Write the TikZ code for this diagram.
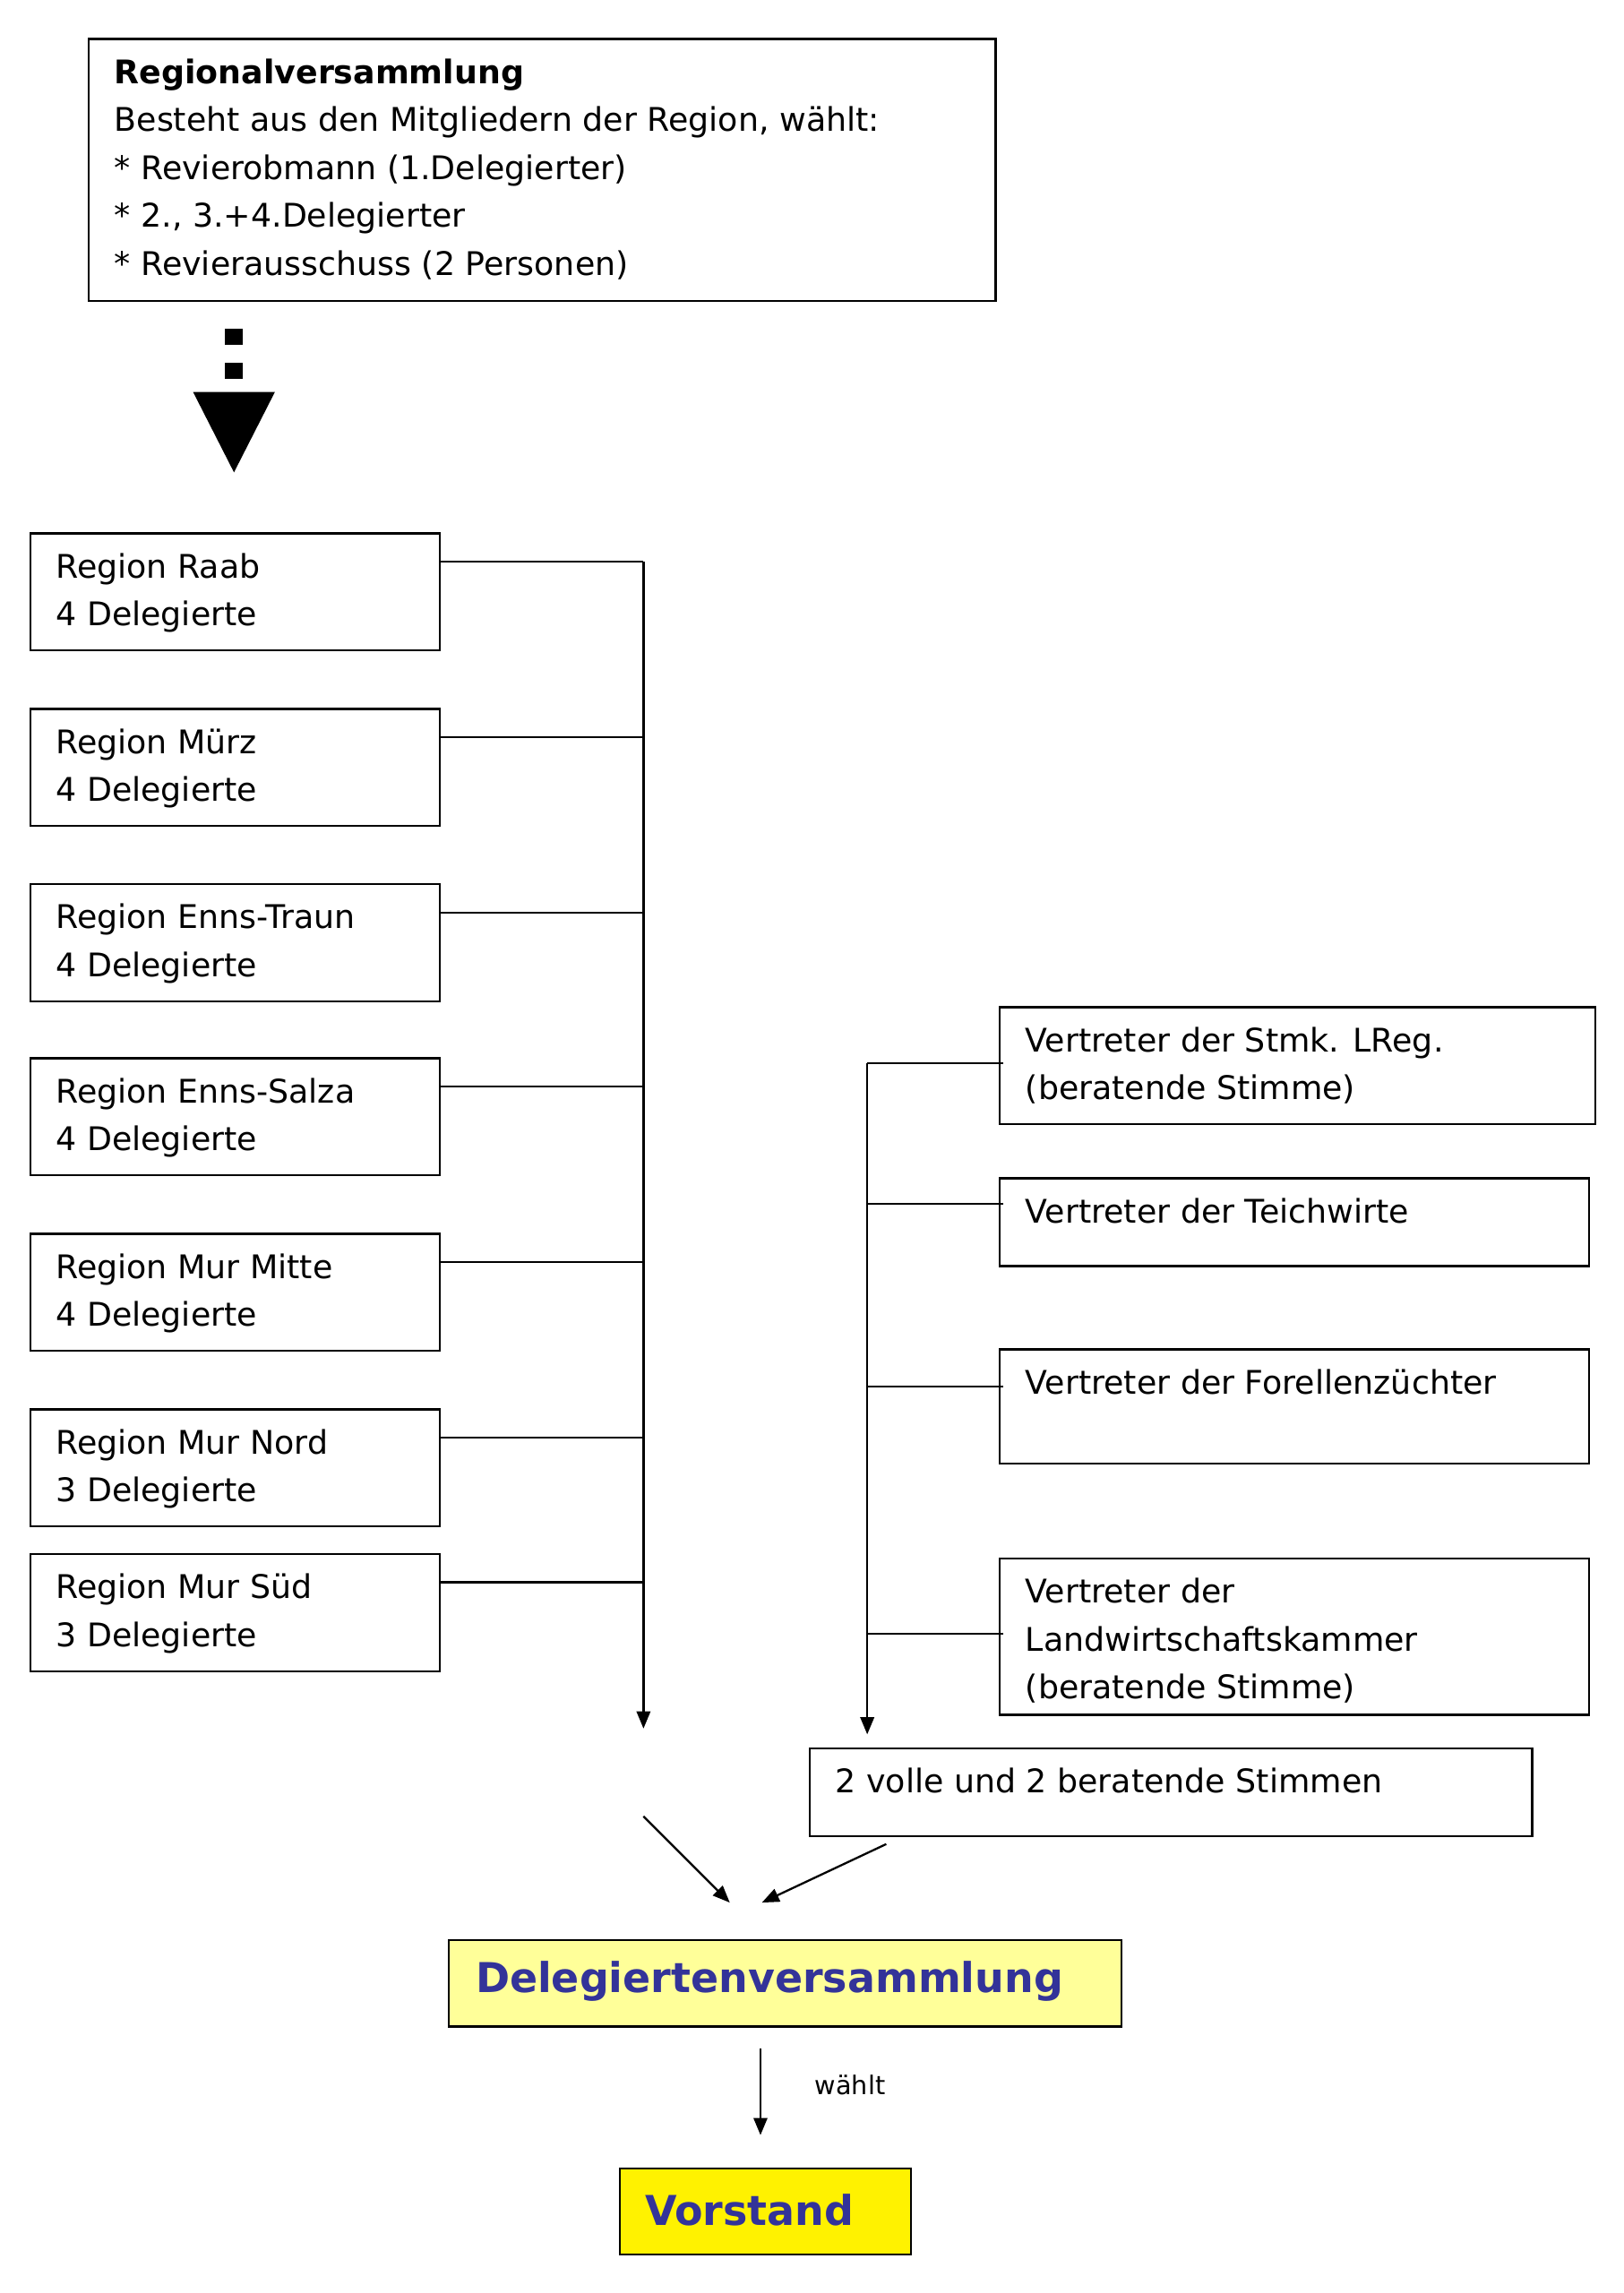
\documentclass[tikz,border=0pt]{standalone}
\usepackage{fontspec}
\setmainfont{DejaVu Sans}
\usetikzlibrary{arrows.meta}
\definecolor{dblue}{HTML}{333399}
\definecolor{lyel}{HTML}{FFFF99}
\def\u{0.03cm}
\tikzset{
 box/.style={draw,line width=1.2pt,inner sep=0pt,anchor=north west},
 txt/.style={anchor=north west,inner sep=0pt,align=left,font=\fontsize{19}{28}\selectfont},
 con/.style={line width=1.2pt},
 arr/.style={line width=1.2pt,-{Triangle[length=10pt,width=8pt]}}
}
\newcommand{\bx}[6]{% name x y w h text
 \node[box,minimum width={#4*\u},minimum height={#5*\u}] (#1) at (#2,#3) {};
 \node[txt] (#1t) at (#2+18,#3+14) {#6};}
\begin{document}
\begin{tikzpicture}[x=0.03cm,y=-0.03cm]
\useasboundingbox (0,0) rectangle (1110,1568);
\bx{top}{60}{26}{620}{179}{\textbf{Regionalversammlung}\\Besteht aus den Mitgliedern der Region, wählt:\\* Revierobmann (1.Delegierter)\\* 2., 3.+4.Delegierter\\* Revierausschuss (2 Personen)}
\fill (154,225) rectangle (166,236);
\fill (154,248) rectangle (166,259);
\coordinate (tri) at (160,268);
\fill (132,268) -- (188,268) -- (160,323) -- cycle;
\foreach \n/\y/\t in {r1/364/{Region Raab\\4 Delegierte},r2/484/{Region Mürz\\4 Delegierte},r3/604/{Region Enns-Traun\\4 Delegierte},r4/723/{Region Enns-Salza\\4 Delegierte},r5/843/{Region Mur Mitte\\4 Delegierte},r6/963/{Region Mur Nord\\3 Delegierte},r7/1062/{Region Mur Süd\\3 Delegierte}}{
 \bx{\n}{20}{\y}{280}{80}{\t}
 \coordinate (\n j) at (440,\y+20);
 \draw[con] (\n.north east)++(0,-20*\u) -- (\n j);
}
\coordinate (lend) at (440,1182);
\draw[arr] (r1j) -- (lend);
\bx{v1}{683}{688}{407}{80}{Vertreter der Stmk. LReg.\\(beratende Stimme)}
\bx{v2}{683}{805}{403}{60}{Vertreter der Teichwirte}
\bx{v3}{683}{922}{403}{78}{Vertreter der Forellenzüchter}
\bx{v4}{683}{1065}{403}{107}{Vertreter der\\Landwirtschaftskammer\\(beratende Stimme)}
\foreach \n/\y in {v1/727,v2/823,v3/948,v4/1117}{
 \coordinate (\n j) at (593,\y);
 \draw[con] (\n j) -- (686,\y);
}
\coordinate (rend) at (593,1186);
\draw[arr] (v1j) -- (rend);
\bx{st}{553}{1195}{494}{60}{2 volle und 2 beratende Stimmen}
\coordinate (a1) at (440,1242); \coordinate (a1e) at (499,1301);
\coordinate (a2) at (606,1261); \coordinate (a2e) at (521,1301);
\draw[arr] (a1) -- (a1e);
\draw[arr] (a2) -- (a2e);
\node[box,fill=lyel,minimum width={460*\u},minimum height={59*\u}] (dv) at (306,1326) {};
\node[anchor=west,inner sep=0pt,text=dblue,font=\fontsize{24}{28}\selectfont\bfseries] (dvt) at (325,1355) {Delegiertenversammlung};
\coordinate (w1) at (520,1401); \coordinate (w2) at (520,1460);
\draw[arr] (w1) -- (w2);
\node[anchor=west,inner sep=0pt,font=\fontsize{15}{18}\selectfont] (wl) at (557,1426) {wählt};
\node[box,fill=yellow,minimum width={199*\u},minimum height={59*\u}] (vo) at (423,1482) {};
\node[anchor=west,inner sep=0pt,text=dblue,font=\fontsize{24}{28}\selectfont\bfseries] (vot) at (441,1511) {Vorstand};
\end{tikzpicture}
\end{document}
